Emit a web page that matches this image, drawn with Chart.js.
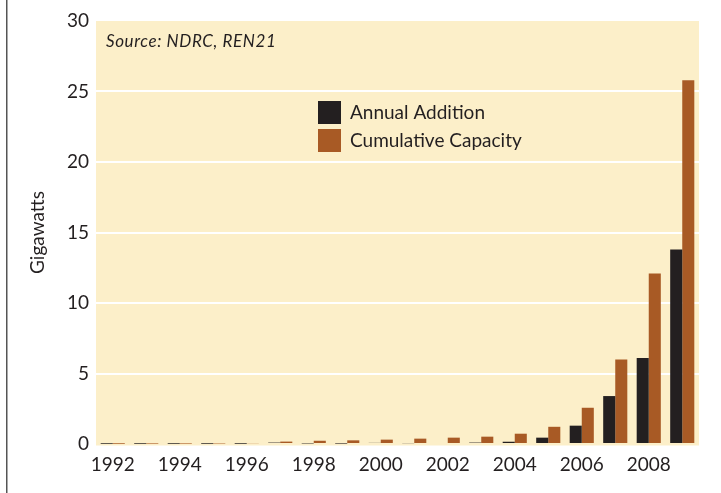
<!DOCTYPE html>
<html>
<head>
<meta charset="utf-8">
<script src="https://cdn.jsdelivr.net/npm/chart.js@4"></script>
<style>
  html,body{margin:0;padding:0;background:#fff;}
  #wrap{width:721px;height:493px;position:relative;}
</style>
</head>
<body>
<div id="wrap"><canvas id="c"></canvas></div>
<script>
const years = ['1992','1993','1994','1995','1996','1997','1998','1999','2000','2001','2002','2003','2004','2005','2006','2007','2008','2009'];
const annual = [0.02,0.02,0.02,0.02,0.02,0.1,0.04,0.03,0.08,0.06,0.07,0.1,0.16,0.45,1.3,3.4,6.1,13.8];
const cumulative = [0.02,0.03,0.03,0.04,0.06,0.17,0.23,0.26,0.31,0.38,0.45,0.52,0.73,1.22,2.57,6.0,12.1,25.8];
const yTicks = [0,5,10,15,20,25,30];

const FONT = 'Lato, "Open Sans", sans-serif';
const INK = '#231f20';

const Frame = {
  id:'frame',
  beforeDraw(chart){
    const {ctx, chartArea:{left,top,right,bottom}} = chart;
    ctx.save();
    ctx.fillStyle='#fcefc9';
    ctx.fillRect(left, top, right-left, bottom-top+1.5);
    ctx.fillStyle='#555';
    ctx.fillRect(6, 0, 1.5, chart.height);
    ctx.restore();
  },
  afterDraw(chart){
    const {ctx} = chart;
    ctx.save();
    ctx.fillStyle=INK; ctx.textBaseline='middle'; ctx.textAlign='left';
    ctx.font='italic 17px '+FONT;
    ctx.letterSpacing='0.6px';
    ctx.fillText('Source: NDRC, REN21', 106, 42);
    ctx.letterSpacing='0px';
    // legend inside the plot
    ctx.font='19px '+FONT;
    chart.data.datasets.forEach((ds,i)=>{
      const y = 101 + i*28;
      ctx.fillStyle = ds.backgroundColor;
      ctx.fillRect(318, y, 23, 23);
      ctx.fillStyle = INK;
      ctx.fillText(ds.label, 350, y+12);
    });
    ctx.restore();
  }
};

new Chart(document.getElementById('c'), {
  type:'bar',
  data:{
    labels: years,
    datasets:[
      {label:'Annual Addition', data: annual, backgroundColor:'#231f20'},
      {label:'Cumulative Capacity', data: cumulative, backgroundColor:'#a85a25'}
    ]
  },
  options:{
    responsive:true, maintainAspectRatio:false, animation:false,
    layout:{padding:{left:0, right:22, top:21, bottom:0}},
    datasets:{bar:{categoryPercentage:0.72, barPercentage:1.0}},
    plugins:{legend:{display:false}, tooltip:{enabled:false}},
    scales:{
      x:{
        grid:{display:false, drawTicks:false},
        border:{display:false},
        ticks:{
          autoSkip:false, maxRotation:0, padding:9,
          color:INK, font:{family:FONT, size:19},
          callback:(v,i)=> i%2===0 ? years[i] : ''
        },
        afterFit(scale){ scale.height = 49; }
      },
      y:{
        min:0, max:30,
        afterBuildTicks(scale){ scale.ticks = yTicks.map(v=>({value:v})); },
        grid:{
          drawTicks:false, lineWidth:2,
          color:(c)=> (c.tick && (c.tick.value===0 || c.tick.value===30)) ? 'rgba(0,0,0,0)' : '#ffffff'
        },
        border:{display:false},
        ticks:{padding:7, color:INK, font:{family:FONT, size:19}},
        title:{display:true, text:'Gigawatts', color:INK, font:{family:FONT, size:19}, padding:{top:26}},
        afterFit(scale){ scale.width = 96; }
      }
    }
  },
  plugins:[Frame]
});
</script>
</body>
</html>
